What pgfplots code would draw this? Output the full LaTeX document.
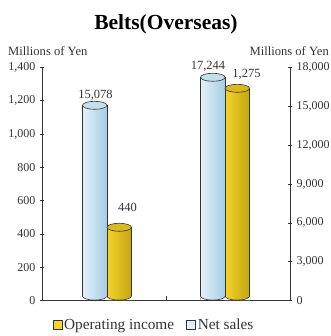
\documentclass[border=0pt]{standalone}
\usepackage{pgfplots}
\usepackage{pgfplotstable}
\pgfplotsset{compat=1.18}
\usepackage{fontspec}
\setmainfont{Liberation Serif}
\definecolor{txt}{HTML}{333333}
\definecolor{blueL}{HTML}{E2F1FA}
\definecolor{blueR}{HTML}{A6CDE3}
\definecolor{blueT}{HTML}{C3DFEE}
\definecolor{goldL}{HTML}{F4D42A}
\definecolor{goldR}{HTML}{C4A514}
\definecolor{goldT}{HTML}{D9B91E}
\pgfdeclareplotmark{cyltop}{\pgfpathellipse{\pgfpointorigin}{\pgfpoint{12.25pt}{0pt}}{\pgfpoint{0pt}{4pt}}\pgfusepathqfillstroke}
\pgfdeclareplotmark{cylbot}{%
  \pgfpathmoveto{\pgfpoint{-12.55pt}{0.4pt}}%
  \pgfpathlineto{\pgfpoint{-12.55pt}{4.4pt}}%
  \pgfpathlineto{\pgfpoint{-12.25pt}{4.4pt}}%
  \pgfpatharc{180}{360}{12.25pt and 4pt}%
  \pgfpathlineto{\pgfpoint{12.55pt}{4.4pt}}%
  \pgfpathlineto{\pgfpoint{12.55pt}{0.4pt}}%
  \pgfpathclose
  \pgfsetfillcolor{white}\pgfusepathqfill
  \pgfpathmoveto{\pgfpoint{-12.25pt}{4.4pt}}%
  \pgfpatharc{180}{360}{12.25pt and 4pt}%
  \pgfusepathqstroke}
\pgfkeys{/pgf/number format/.cd, 1000 sep={,}, fixed, precision=0, assume math mode=true}

\pgfplotstableread{
x y
0 15078
1 17244
}\netsales
\pgfplotstableread{
x y
0 440
1 1275
}\opincome

\pgfplotsset{
  common/.style={
    at={(42pt,35.5pt)}, anchor=south west,
    scale only axis, width=248pt, height=233pt,
    xmin=-0.55, xmax=1.55, ymin=0, clip=false,
    axis line style={draw=txt, line width=0.8pt},
    tick style={draw=txt, line width=0.6pt},
    tick align=center, major tick length=4pt,
    scaled y ticks=false,
    ticklabel style={font=\fontsize{12}{14}\selectfont, text=txt},
  },
  cylbar/.style 2 args={ybar, bar width=24.5pt, draw=txt, line width=0.6pt, forget plot,
    nodes near coords,
    nodes near coords style={anchor=south, inner sep=0pt,
      xshift=#1, yshift=#2, text=txt, font=\fontsize{12.5}{14}\selectfont},
  },
}

\begin{document}
\begin{tikzpicture}[text=txt]
\useasboundingbox (0,0) rectangle (330pt,336pt);
% Net sales (right axis)
\begin{axis}[common,
  axis y line*=right, axis x line=none,
  ymax=18000, ytick={0,3000,...,18000},
  yticklabel style={anchor=west, xshift=1pt},
]
\addplot[cylbar={-11.5pt}{5pt}, bar shift=-12.25pt, left color=blueL, right color=blueR,
  skip coords between index={1}{2}] table[x=x, y=y] {\netsales};
\addplot[cylbar={-17pt}{6pt}, bar shift=-12.25pt, left color=blueL, right color=blueR,
  skip coords between index={0}{1}] table[x=x, y=y] {\netsales};
\addplot[only marks, mark=cyltop, forget plot,
  mark options={xshift=-12.25pt, fill=blueT, draw=txt, line width=0.6pt}] table[x=x, y=y] {\netsales};
\addplot[only marks, mark=cylbot, forget plot,
  mark options={xshift=-12.25pt, draw=txt, line width=0.6pt}] table[x=x, y expr=0] {\netsales};
\end{axis}
% Operating income (left axis)
\begin{axis}[common,
  axis y line*=left, axis x line*=bottom,
  ymax=1400, ytick={0,200,...,1400},
  yticklabel style={anchor=east, xshift=-1pt},
  xtick={0,1}, xticklabels={2010,2011}, xmajorticks=false,
  xticklabel style={font=\fontsize{12.5}{14}\selectfont, yshift=-1pt},
  extra x ticks={0.5}, extra x tick labels={},
  extra x tick style={xmajorticks=true, tick align=inside},
  legend style={at={(0.4516,-0.105)}, anchor=center, draw=none, fill=none,
    legend columns=-1, font=\fontsize{15.3}{17}\selectfont, inner sep=0pt,
    /tikz/every even column/.append style={column sep=10pt}},
]
\addplot[cylbar={20.5pt}{15pt}, bar shift=12.25pt, left color=goldL, right color=goldR,
  skip coords between index={1}{2}] table[x=x, y=y] {\opincome};
\addplot[cylbar={21.5pt}{9pt}, bar shift=12.25pt, left color=goldL, right color=goldR,
  skip coords between index={0}{1}] table[x=x, y=y] {\opincome};
\addplot[only marks, mark=cyltop, forget plot,
  mark options={xshift=12.25pt, fill=goldT, draw=txt, line width=0.6pt}] table[x=x, y=y] {\opincome};
\addplot[only marks, mark=cylbot, forget plot,
  mark options={xshift=12.25pt, draw=txt, line width=0.6pt}] table[x=x, y expr=0] {\opincome};
\addlegendimage{legend image code/.code={\draw[fill=goldL, draw=txt, line width=0.6pt] (0pt,-4.5pt) rectangle (9pt,4.5pt);}}
\addlegendentry{Operating income}
\addlegendimage{legend image code/.code={\draw[fill=blueL, draw=txt, line width=0.6pt] (0pt,-4.5pt) rectangle (9pt,4.5pt);}}
\addlegendentry{Net sales}
\end{axis}
\node[font=\bfseries\fontsize{21.5}{24}\selectfont, text=black] at (166pt,312pt) {Belts(Overseas)};
\node[anchor=base west, font=\fontsize{12.6}{14}\selectfont, inner sep=0pt] at (8pt,280.5pt) {Millions of Yen};
\node[anchor=base east, font=\fontsize{12.6}{14}\selectfont, inner sep=0pt] at (329pt,280.5pt) {Millions of Yen};
\end{tikzpicture}
\end{document}
